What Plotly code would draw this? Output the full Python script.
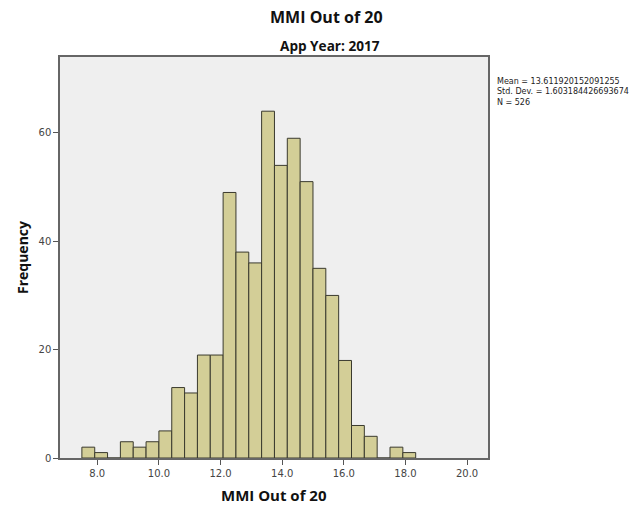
import plotly.graph_objects as go

# Data: histogram of MMI Out of 20, App Year 2017
bin_start = 7.5
bin_width = 5 / 12
counts = [2, 1, 0, 3, 2, 3, 5, 13, 12, 19, 19, 49, 38, 36, 64, 54, 59, 51, 35, 30, 18, 6, 4, 0, 2, 1]
x_ticks = [8.0, 10.0, 12.0, 14.0, 16.0, 18.0, 20.0]
y_ticks = [0, 20, 40, 60]
stats_lines = ["Mean = 13.611920152091255", "Std. Dev. = 1.603184426693674", "N = 526"]

centers = [bin_start + bin_width * (i + 0.5) for i in range(len(counts))]

FONT = "DejaVu Sans"
TFONT = "Open Sans"
W, H = 644, 510
ML, MR, MT, MB = 60, 156, 57, 52

fig = go.Figure(go.Bar(
    x=centers,
    y=counts,
    width=[bin_width] * len(counts),
    marker=dict(color="#d3ce97", line=dict(color="#3a3a2e", width=1)),
    hoverinfo="x+y",
))

plot_h = H - MT - MB
plot_w = W - ML - MR
def py(pix):
    return (H - MB - pix) / plot_h
def px(pix):
    return (pix - ML) / plot_w

fig.update_layout(
    width=W, height=H,
    margin=dict(l=ML, r=MR, t=MT, b=MB, autoexpand=False),
    paper_bgcolor="white",
    plot_bgcolor="#efefef",
    showlegend=False,
    font=dict(family=FONT, color="#222"),
    xaxis=dict(
        range=[6.79, 20.68],
        tickvals=x_ticks,
        ticktext=[f"{v:.1f}" for v in x_ticks],
        ticks="outside", ticklen=5, tickcolor="#555",
        tickfont=dict(size=10, color="#444"),
        showgrid=False, zeroline=False, automargin=False,
        showline=True, linecolor="#666", linewidth=1.5, mirror=True,
    ),
    yaxis=dict(
        range=[0, 74],
        tickvals=y_ticks,
        ticks="outside", ticklen=5, tickcolor="#555",
        tickfont=dict(size=10, color="#444"),
        showgrid=False, zeroline=False, automargin=False,
        showline=True, linecolor="#666", linewidth=1.5, mirror=True,
    ),
    annotations=[
        dict(text="<b>MMI Out of 20</b>", x=px(326), y=py(17), xref="paper", yref="paper",
             showarrow=False, font=dict(family=TFONT, size=16, color="#111"),
             xanchor="center", yanchor="middle"),
        dict(text="<b>App Year: 2017</b>", x=px(330), y=py(45), xref="paper", yref="paper",
             showarrow=False, font=dict(family=TFONT, size=13.6, color="#111"),
             xanchor="center", yanchor="middle"),
        dict(text="<b>MMI Out of 20</b>", x=px(274), y=py(495), xref="paper", yref="paper",
             showarrow=False, font=dict(family=TFONT, size=15, color="#111"),
             xanchor="center", yanchor="middle"),
        dict(text="<b>Frequency</b>", x=px(22), y=py(258), xref="paper", yref="paper",
             showarrow=False, textangle=-90, font=dict(family=TFONT, size=14, color="#111"),
             xanchor="center", yanchor="middle"),
        dict(text="<br>".join(stats_lines), x=px(495), y=py(75), xref="paper", yref="paper",
             showarrow=False, font=dict(size=8, color="#222"), xanchor="left", yanchor="top",
             align="left"),
    ],
)

fig.write_html("out.html", config={"displayModeBar": False},
               post_script="document.body.style.margin='0';")
